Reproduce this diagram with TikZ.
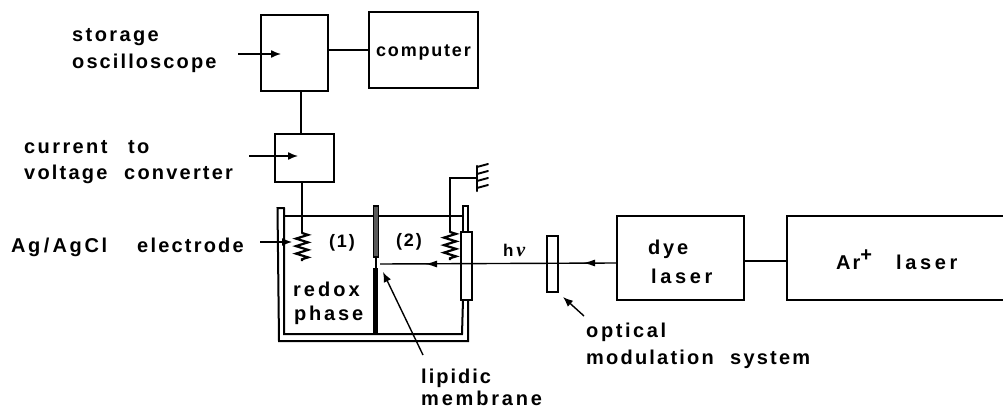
\documentclass[tikz,border=0pt]{standalone}
\usepackage{fontspec}
\setmainfont{Liberation Sans}[BoldFont={Liberation Sans Bold}]
\newfontfamily\nufont{Liberation Serif}
\usetikzlibrary{arrows.meta,decorations.pathmorphing}
\tikzset{
  line/.style={line width=2pt,line cap=round},
  boxn/.style={draw,line width=2pt,inner sep=0pt},
  lab/.style={font=\fontsize{20}{21}\selectfont\bfseries,anchor=base west,inner sep=0pt},
  midlab/.style={lab,font=\fontsize{18}{21}\selectfont\bfseries},
  pointer/.style={line width=1.4pt,-{Latex[length=10pt,width=8pt]}},
  spring/.style={line width=2.2pt,decorate,decoration={zigzag,segment length=7.5pt,amplitude=6pt}}
}
\newcommand{\spaced}[2]{\addfontfeatures{LetterSpace=#1}#2}
\begin{document}
\begin{tikzpicture}[x=1pt,y=-1pt]
\useasboundingbox (0,0) rectangle (1003,409);
% boxes
\node[boxn,minimum width=67pt,minimum height=76pt] (scope) at (294.5,53) {};
\node[boxn,minimum width=109pt,minimum height=76pt] (comp) at (423.5,50) {};
\node[midlab] (tcomp) at (376,57) {\spaced{10}{computer}};
\node[boxn,minimum width=59pt,minimum height=48pt] (conv) at (304.5,158) {};
\node[boxn,minimum width=127pt,minimum height=84pt] (dye) at (680.5,258) {};
\node[boxn,minimum width=220pt,minimum height=84pt] (ar) at (897,258) {};
\node[lab] (tdye) at (648,254) {\spaced{14}{dye}};
\node[lab] (tlaser) at (651,283) {\spaced{18}{laser}};
\node[lab] (tar) at (836,269) {\spaced{10}{Ar\raisebox{8pt}{+}}};
\node[lab] (tar2) at (896,269) {\spaced{18}{laser}};
\draw[line] (scope.east |- 0,50) -- (comp.west |- 0,50);
\draw[line] (scope.south -| 301,0) -- (conv.north -| 301,0);
\draw[line] (dye.east |- 0,261) -- (ar.west |- 0,261);
% labels
\node[lab] (t1) at (72,42) {\spaced{12}{storage}};
\node[lab] (t2) at (72,69) {\spaced{10.5}{oscilloscope}};
\node[lab] (t3) at (24,153) {\spaced{12}{current}};
\node[lab] (t3b) at (128,153) {\spaced{12}{to}};
\node[lab] (t4) at (24,179) {\spaced{11}{voltage}};
\node[lab] (t4b) at (124,179) {\spaced{11}{converter}};
\node[lab] (t5) at (11,252) {\spaced{13}{Ag\,/\,AgCl}};
\node[lab] (t5b) at (137,252) {\spaced{11}{electrode}};
\node[lab] (t6) at (293,296) {\spaced{15}{redox}};
\node[lab] (t7) at (294,320) {\spaced{14}{phase}};
\node[midlab] (t8) at (329,247) {\spaced{10}{(1)}};
\node[midlab] (t9) at (396,246) {\spaced{10}{(2)}};
\node[lab] (t10) at (586,337) {\spaced{13}{optical}};
\node[lab] (t11) at (586,364) {\spaced{11}{modulation}};
\node[lab] (t11b) at (730,364) {\spaced{11}{system}};
\node[lab] (t12) at (421,383) {\spaced{10}{lipidic}};
\node[lab] (t13) at (421,405) {\spaced{14}{membrane}};
\node[lab,font=\fontsize{17}{14}\selectfont\bfseries] (t14) at (503,256) {h\,{\nufont\fontsize{20}{20}\selectfont\bfseries\itshape ν}};
% pointers
\coordinate (p1) at (238,54); \coordinate (p1e) at (281,54);
\draw[pointer] (p1) -- (p1e);
\coordinate (p2) at (249,156); \coordinate (p2e) at (298,156);
\draw[pointer] (p2) -- (p2e);
\coordinate (p3) at (260,242); \coordinate (p3e) at (292,242);
\draw[pointer] (p3) -- (p3e);
% tank
\draw[line] (284,216) -- (463,216);
\draw[line] (284,208) -- (277.5,208) -- (279,341) -- (468,341) -- (468,300);
\draw[line] (284,208) -- (284,334) -- (462,334) -- (463,300);
\draw[line] (463,232) -- (463,206) -- (468,206) -- (468,232);
% membrane
\draw[line width=1.2pt,fill=black!65] (373.5,206) rectangle (378.5,257);
\draw[line width=1.2pt] (376,257) -- (376,268);
\draw[line width=5pt] (375.5,268) -- (375.5,334);
% electrodes
\coordinate (s1a) at (302,233); \coordinate (s1b) at (302,261);
\draw[line] (conv.south -| s1a) -- (s1a);
\draw[spring] (s1a) -- (s1b);
\coordinate (s2a) at (450,232); \coordinate (s2b) at (450,260);
\coordinate (gnd) at (477,178);
\draw[line] (s2a) -- (450,178) -- (gnd);
\draw[spring] (s2a) -- (s2b);
\draw[line,line width=2.2pt] (477,166) -- (477,191);
\foreach \y in {167,174,181,188} \draw[line,line width=1.9pt] (477,\y) -- (488,\y-3);
% tube
\node[boxn,fill=white,minimum width=11pt,minimum height=68pt] (tube) at (466.5,266) {};
% optics
\node[boxn,minimum width=11pt,minimum height=56pt] (mod) at (552.5,264) {};
\coordinate (beam) at (380,264);
\draw[line width=1.4pt] (dye.west |- 0,263) -- (beam);
\coordinate (a1) at (583,263); \coordinate (a2) at (425,264);
\draw[line width=1.4pt,-{Latex[length=12pt,width=7pt]}] (593,263) -- (a1);
\draw[line width=1.4pt,-{Latex[length=12pt,width=7pt]}] (435,264) -- (a2);
\coordinate (o1) at (584,316); \coordinate (o1e) at (563,297);
\draw[pointer] (o1) -- (o1e);
\coordinate (m1) at (423,355); \coordinate (m1e) at (383,272);
\draw[pointer] (m1) -- (m1e);
\end{tikzpicture}
\end{document}
